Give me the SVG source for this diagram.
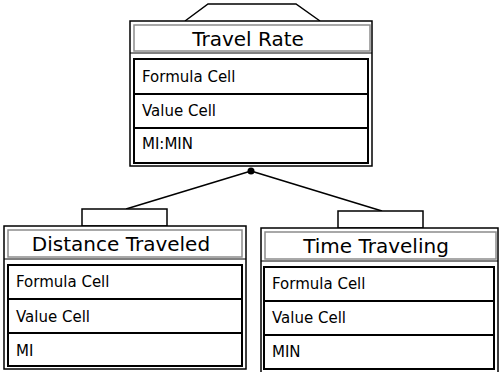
<svg xmlns="http://www.w3.org/2000/svg" width="499" height="372" viewBox="0 0 499 372">
  <style>
    .outer { fill: #fff; stroke: #000; stroke-width: 1.5; }
    .title { fill: #fff; stroke: #8c8c8c; stroke-width: 1.5; }
    .sep { stroke: #000; stroke-width: 1; }
    .body { fill: #fff; stroke: #000; stroke-width: 2; }
    .row { stroke: #000; stroke-width: 2; }
    .tab { fill: #fff; stroke: #000; stroke-width: 1.5; }
    .wire { fill: none; stroke: #000; stroke-width: 1.5; }
    .head { font-family: "DejaVu Sans", sans-serif; font-size: 20px; fill: #000; text-anchor: middle; }
    .cell { font-family: "DejaVu Sans", sans-serif; font-size: 15px; fill: #000; }
  </style>

  <!-- connectors -->
  <g id="connectors">
    <polyline class="wire" points="185,21 208,4 296,4 320,21"/>
    <line class="wire" x1="251" y1="171" x2="126" y2="209"/>
    <line class="wire" x1="251" y1="171" x2="382" y2="211"/>
    <circle cx="251" cy="171" r="3.5" fill="#000"/>
    <rect class="tab" x="82" y="209" width="85" height="17"/>
    <rect class="tab" x="338" y="211" width="85" height="17"/>
  </g>

  <!-- Travel Rate -->
  <g id="travel-rate">
    <rect class="outer" x="130" y="21" width="242" height="145"/>
    <rect class="title" x="134" y="25" width="236" height="26"/>
    <line class="sep" x1="130" y1="53" x2="372" y2="53"/>
    <rect class="body" x="134" y="59" width="234" height="104"/>
    <line class="row" x1="134" y1="94" x2="368" y2="94"/>
    <line class="row" x1="134" y1="128" x2="368" y2="128"/>
    <text class="head" x="248" y="46">Travel Rate</text>
    <text class="cell" x="142" y="82">Formula Cell</text>
    <text class="cell" x="142" y="116">Value Cell</text>
    <text class="cell" x="142" y="149">MI:MIN</text>
  </g>

  <!-- Distance Traveled -->
  <g id="distance-traveled">
    <rect class="outer" x="4" y="226" width="242" height="143"/>
    <rect class="title" x="8" y="230" width="234" height="27"/>
    <line class="sep" x1="4" y1="259" x2="246" y2="259"/>
    <rect class="body" x="8" y="265" width="234" height="101"/>
    <line class="row" x1="8" y1="299" x2="242" y2="299"/>
    <line class="row" x1="8" y1="333" x2="242" y2="333"/>
    <text class="head" x="121" y="251">Distance Traveled</text>
    <text class="cell" x="16" y="287">Formula Cell</text>
    <text class="cell" x="16" y="322">Value Cell</text>
    <text class="cell" x="16" y="356">MI</text>
  </g>

  <!-- Time Traveling -->
  <g id="time-traveling">
    <rect class="outer" x="261" y="228" width="237" height="145"/>
    <rect class="title" x="265" y="232" width="231" height="27"/>
    <line class="sep" x1="261" y1="261" x2="498" y2="261"/>
    <rect class="body" x="264" y="267" width="230" height="102"/>
    <line class="row" x1="264" y1="301" x2="494" y2="301"/>
    <line class="row" x1="264" y1="335" x2="494" y2="335"/>
    <text class="head" x="376" y="253">Time Traveling</text>
    <text class="cell" x="272" y="289">Formula Cell</text>
    <text class="cell" x="272" y="323">Value Cell</text>
    <text class="cell" x="272" y="357">MIN</text>
  </g>
</svg>
